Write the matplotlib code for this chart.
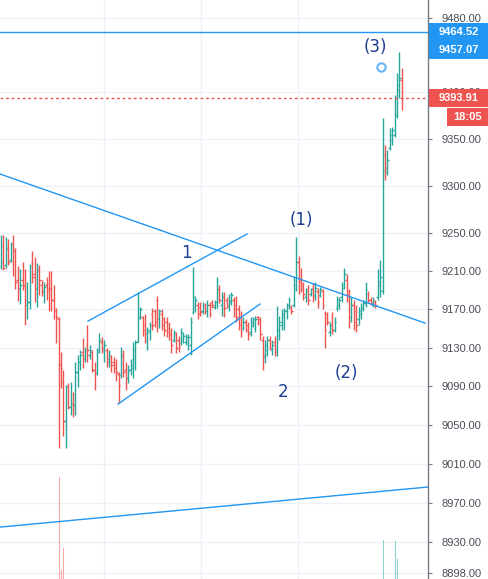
import matplotlib
matplotlib.use("Agg")
import matplotlib.pyplot as plt
from matplotlib.patches import Rectangle
from matplotlib.ticker import FixedLocator, NullLocator, FuncFormatter

GREEN = "#26a69a"
RED = "#ef5350"
BLUE = "#2196f3"
WAVE_BLUE = "#1c3f94"
AXIS_GREY = "#787b86"

# === OHLC (one bar per index) ===
opens = [
    9216, 9237, 9217, 9235, 9222, 9239, 9231, 9201, 9191, 9201,
    9196, 9175, 9178, 9220, 9207, 9193, 9210, 9196, 9189, 9196,
    9193, 9193, 9180, 9168, 9160, 9113, 9094, 9054, 9090, 9069,
    9073, 9071, 9105, 9115, 9126, 9120, 9133, 9123, 9126, 9107,
    9105, 9128, 9136, 9128, 9128, 9115, 9120, 9115, 9112, 9103,
    9102, 9123, 9107, 9099, 9107, 9109, 9118, 9136, 9162, 9162,
    9154, 9138, 9147, 9165, 9168, 9180, 9160, 9165, 9160, 9157,
    9151, 9144, 9138, 9144, 9138, 9135, 9138, 9136, 9136, 9133,
    9167, 9173, 9175, 9173, 9168, 9175, 9168, 9175, 9178, 9173,
    9178, 9191, 9175, 9183, 9180, 9173, 9178, 9180, 9175, 9170,
    9162, 9151, 9157, 9154, 9147, 9154, 9151, 9162, 9160, 9138,
    9120, 9128, 9138, 9128, 9136, 9128, 9149, 9154, 9162, 9168,
    9175, 9173, 9175, 9191, 9220, 9201, 9196, 9183, 9191, 9186,
    9193, 9185, 9189, 9185, 9189, 9166, 9165, 9146, 9162, 9149,
    9172, 9175, 9183, 9196, 9201, 9186, 9162, 9175, 9168, 9160,
    9165, 9172, 9177, 9186, 9180, 9175, 9178, 9183, 9196, 9189,
    9333, 9315, 9340, 9349, 9354, 9376, 9402, 9413,
]
highs = [
    9248, 9248, 9246, 9244, 9241, 9248, 9235, 9216, 9212, 9220,
    9212, 9199, 9218, 9231, 9225, 9219, 9217, 9201, 9199, 9204,
    9210, 9210, 9196, 9172, 9162, 9126, 9107, 9091, 9093, 9094,
    9084, 9115, 9123, 9128, 9140, 9131, 9154, 9133, 9128, 9115,
    9130, 9145, 9141, 9138, 9130, 9128, 9123, 9120, 9118, 9105,
    9131, 9128, 9115, 9112, 9118, 9136, 9138, 9188, 9173, 9163,
    9165, 9152, 9157, 9172, 9170, 9184, 9170, 9170, 9162, 9162,
    9157, 9151, 9149, 9147, 9142, 9151, 9146, 9144, 9144, 9162,
    9215, 9184, 9178, 9178, 9178, 9177, 9180, 9178, 9180, 9180,
    9204, 9196, 9188, 9188, 9183, 9186, 9188, 9183, 9184, 9175,
    9168, 9162, 9160, 9157, 9162, 9162, 9163, 9163, 9162, 9142,
    9138, 9142, 9142, 9138, 9142, 9174, 9163, 9170, 9172, 9177,
    9183, 9175, 9204, 9246, 9226, 9214, 9199, 9193, 9196, 9193,
    9198, 9199, 9193, 9194, 9191, 9168, 9167, 9157, 9167, 9162,
    9184, 9183, 9199, 9214, 9207, 9191, 9183, 9180, 9175, 9173,
    9177, 9180, 9199, 9189, 9183, 9183, 9180, 9212, 9222, 9373,
    9344, 9338, 9362, 9363, 9397, 9421, 9443, 9426,
]
lows = [
    9212, 9211, 9214, 9217, 9220, 9205, 9191, 9179, 9176, 9190,
    9154, 9160, 9170, 9198, 9178, 9173, 9185, 9184, 9177, 9180,
    9168, 9168, 9160, 9135, 9026, 9088, 9039, 9026, 9067, 9060,
    9058, 9060, 9089, 9107, 9109, 9115, 9115, 9118, 9105, 9086,
    9102, 9125, 9125, 9115, 9110, 9110, 9105, 9104, 9096, 9073,
    9099, 9100, 9086, 9093, 9102, 9099, 9107, 9136, 9160, 9142,
    9135, 9128, 9138, 9149, 9152, 9147, 9151, 9149, 9142, 9141,
    9138, 9125, 9136, 9125, 9126, 9133, 9135, 9133, 9128, 9123,
    9165, 9167, 9160, 9163, 9165, 9165, 9162, 9162, 9172, 9170,
    9172, 9177, 9163, 9162, 9172, 9168, 9175, 9162, 9157, 9149,
    9141, 9149, 9147, 9138, 9142, 9152, 9147, 9154, 9138, 9107,
    9114, 9121, 9128, 9123, 9121, 9121, 9138, 9149, 9149, 9160,
    9170, 9165, 9173, 9189, 9186, 9188, 9180, 9178, 9175, 9184,
    9178, 9180, 9172, 9183, 9170, 9130, 9154, 9142, 9144, 9146,
    9168, 9170, 9178, 9191, 9178, 9151, 9157, 9149, 9147, 9154,
    9160, 9168, 9173, 9177, 9175, 9173, 9172, 9180, 9183, 9186,
    9306, 9312, 9338, 9344, 9352, 9373, 9394, 9381,
]
closes = [
    9220, 9214, 9233, 9220, 9238, 9233, 9199, 9193, 9196, 9195,
    9180, 9178, 9216, 9204, 9191, 9212, 9201, 9189, 9194, 9189,
    9191, 9180, 9170, 9162, 9112, 9109, 9054, 9090, 9069, 9072,
    9071, 9105, 9115, 9123, 9118, 9128, 9128, 9128, 9107, 9103,
    9126, 9138, 9130, 9133, 9118, 9123, 9112, 9109, 9105, 9091,
    9123, 9105, 9099, 9107, 9112, 9128, 9136, 9160, 9170, 9149,
    9144, 9149, 9154, 9154, 9157, 9160, 9168, 9154, 9149, 9147,
    9144, 9133, 9146, 9130, 9131, 9147, 9142, 9141, 9141, 9157,
    9184, 9180, 9165, 9167, 9175, 9168, 9175, 9165, 9175, 9178,
    9191, 9180, 9183, 9172, 9175, 9180, 9185, 9170, 9162, 9154,
    9147, 9157, 9149, 9144, 9157, 9160, 9160, 9157, 9144, 9123,
    9133, 9138, 9130, 9133, 9126, 9149, 9157, 9165, 9168, 9175,
    9180, 9168, 9196, 9220, 9199, 9191, 9186, 9189, 9180, 9191,
    9183, 9193, 9178, 9191, 9175, 9149, 9157, 9154, 9149, 9157,
    9180, 9180, 9193, 9207, 9189, 9162, 9175, 9157, 9154, 9168,
    9172, 9177, 9191, 9180, 9177, 9180, 9175, 9199, 9204, 9317,
    9319, 9328, 9354, 9360, 9376, 9408, 9415, 9393.91,
]

# volume spikes that reach into the visible price pane (bar index, relative volume)
vol_bars = [24, 25, 26, 159, 164, 165]
vol_values = [176, 16, 54, 67, 66, 35]
VOL_MAX = 1000

# drawings (bar index, price)
trend_down_x, trend_down_y = [-0.4, 176.7], [9312.8, 9155.8]
trend_base_x, trend_base_y = [-0.4, 177.9], [8945.2, 8986.2]
chan_top_x, chan_top_y = [36.25, 102.5], [9157.9, 9249.3]
chan_bot_x, chan_bot_y = [48.75, 107.9], [9071.6, 9175.7]

wave_labels = ["1", "2", "(1)", "(2)", "(3)"]
wave_x = [77.1, 117.5, 125.0, 143.75, 155.8]
wave_y = [9229.3, 9084.2, 9264.1, 9104.3, 9448.6]
marker_x, marker_y = 158.3, 9427.2

resistance = 9464.52
high_mark = 9457.07
last_price = 9393.91
countdown = "18:05"

price_ticks = [9480, 9400, 9350, 9300, 9250, 9210, 9170, 9130, 9090, 9050,
               9010, 8970, 8930, 8898]
time_grid = [43.0, 83.5, 123.9]

# === figure ===
W, H = 488, 579
AX_RIGHT = 428
fig = plt.figure(figsize=(W / 100, H / 100), dpi=100)
ax = fig.add_axes([0, 0, AX_RIGHT / W, 1])
ax.set_yscale("log")
ax.set_xlim(-0.42, 177.9)
ax.set_ylim(8892.4, 9499.5)

ax.yaxis.set_major_locator(FixedLocator(price_ticks))
ax.yaxis.set_minor_locator(NullLocator())
ax.yaxis.set_major_formatter(FuncFormatter(lambda v, p: f"{v:.2f}"))
ax.yaxis.set_minor_formatter(FuncFormatter(lambda v, p: ""))
ax.yaxis.tick_right()
ax.tick_params(axis="y", direction="out", length=3, width=0.8, color=AXIS_GREY,
               labelsize=8, labelcolor="#4a4e59", pad=6.5)
for lbl in ax.get_yticklabels():
    lbl.set_family("Liberation Sans")
ax.set_xticks(time_grid)
ax.tick_params(axis="x", length=0, labelbottom=False)
ax.grid(True, color="#eef1f7", lw=1)
ax.set_axisbelow(True)
for side in ["top", "bottom", "left"]:
    ax.spines[side].set_visible(False)
ax.spines["right"].set_color(AXIS_GREY)
ax.spines["right"].set_linewidth(1)

# volume spikes
vol_tr = ax.get_xaxis_transform()
for i, v in zip(vol_bars, vol_values):
    c = GREEN if closes[i] >= opens[i] else RED
    ax.plot([i, i], [0, v / VOL_MAX], transform=vol_tr, color=c, alpha=0.5, lw=0.8)

# OHLC bars
tick = 0.6
for i in range(len(opens)):
    c = GREEN if closes[i] >= opens[i] else RED
    ax.plot([i, i], [lows[i], highs[i]], color=c, lw=1.0, solid_capstyle="butt")
    ax.plot([i - tick, i], [opens[i], opens[i]], color=c, lw=1.0, solid_capstyle="butt")
    ax.plot([i, i + tick], [closes[i], closes[i]], color=c, lw=1.0, solid_capstyle="butt")

# drawings
for xs, ys in [(trend_down_x, trend_down_y), (trend_base_x, trend_base_y),
               (chan_top_x, chan_top_y), (chan_bot_x, chan_bot_y)]:
    ax.plot(xs, ys, color=BLUE, lw=1)
ax.axhline(resistance, color=BLUE, lw=1)
ax.axhline(last_price, color=RED, lw=1, ls=(0, (2, 2)))

for t, x, y in zip(wave_labels, wave_x, wave_y):
    ax.text(x, y, t, ha="center", va="center", color=WAVE_BLUE, fontsize=12)
ax.plot(marker_x, marker_y, "o", mfc="white", mec="#64b5f6", ms=6, mew=1.5)

# price labels on the scale
def scale_label(price, text, color, shift=0, left=AX_RIGHT + 1, h=18):
    yc = ax.transData.transform((0, price))[1] - shift
    fig.add_artist(Rectangle((left / W, (yc - h / 2) / H), (W - left) / W, h / H,
                             transform=fig.transFigure, facecolor=color,
                             edgecolor="none", zorder=5))
    fig.text((left + W) / 2 / W, yc / H, text, ha="center", va="center",
             color="white", fontsize=8, fontweight="bold",
             family="Liberation Sans", zorder=6)

scale_label(resistance, f"{resistance:.2f}", BLUE)
scale_label(resistance, f"{high_mark:.2f}", BLUE, shift=18)
scale_label(last_price, f"{last_price:.2f}", RED)
scale_label(last_price, countdown, RED, shift=19, left=447)

fig.savefig("out.png", dpi=100, facecolor="white")
